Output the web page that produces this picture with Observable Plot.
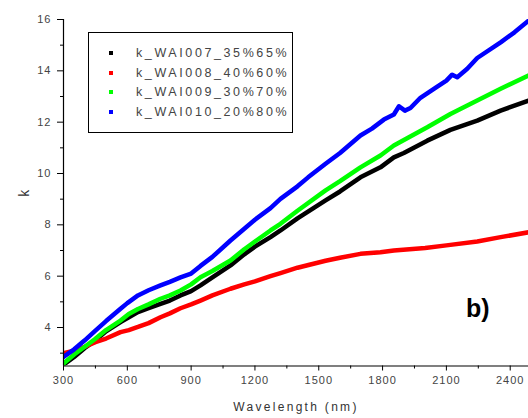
<!DOCTYPE html>
<html>
<head>
<meta charset="utf-8">
<script src="https://cdn.jsdelivr.net/npm/d3@7"></script>
<script src="https://cdn.jsdelivr.net/npm/@observablehq/plot@0.6"></script>
<style>
  html, body { margin: 0; padding: 0; background: #fff; overflow: hidden; }
  #wrap { position: relative; width: 528px; height: 418px; }
  #wrap svg text { fill: #444; letter-spacing: 1px; }
  #wrap svg g[aria-label="x-axis label"] text { letter-spacing: 2.3px; fill: #333; font-size: 12px; }
  #wrap svg g[aria-label="y-axis label"] text { fill: #333; font-size: 14px; }
  #legend { position: absolute; left: 88px; top: 32px; width: 203px; height: 99px; border: 1.5px solid #000; background: #fff; box-sizing: content-box; }
  .row { position: absolute; left: 0; height: 16px; font: 12.5px "Liberation Sans", Arial, sans-serif; letter-spacing: 2.6px; color: #444; white-space: nowrap; }
  .sw { position: absolute; left: 20px; top: 6px; width: 4px; height: 4px; }
  .lab { position: absolute; left: 47px; top: 0; line-height: 16px; }
  #tag { position: absolute; left: 466px; top: 294px; font: bold 25px "Liberation Sans", Arial, sans-serif; color: #000; }
</style>
</head>
<body>
<div id="wrap"></div>
<script>
// ---- data ----
const seriesNames = ["k_WAI007_35%65%", "k_WAI008_40%60%", "k_WAI009_30%70%", "k_WAI010_20%80%"];
const seriesColors = ["#000000", "#ff0000", "#00ff00", "#0000ff"];

const wl007 = [300, 350, 400, 450, 500, 568, 607, 650, 700, 756, 800, 850, 900, 944, 1000, 1085, 1150, 1200, 1273, 1320, 1400, 1532, 1600, 1696, 1790, 1853, 1900, 2010, 2119, 2245, 2355, 2486];
const k007  = [2.55, 2.85, 3.2, 3.5, 3.85, 4.21, 4.4, 4.6, 4.75, 4.92, 5.05, 5.25, 5.42, 5.64, 5.95, 6.42, 6.85, 7.15, 7.52, 7.78, 8.25, 8.95, 9.3, 9.85, 10.24, 10.63, 10.8, 11.28, 11.7, 12.06, 12.45, 12.84];

const wl008 = [300, 350, 400, 450, 500, 568, 607, 650, 700, 756, 800, 850, 900, 944, 1000, 1085, 1150, 1200, 1273, 1320, 1400, 1532, 1600, 1696, 1790, 1853, 2000, 2100, 2245, 2355, 2486];
const k008  = [3.0, 3.1, 3.25, 3.43, 3.57, 3.82, 3.9, 4.02, 4.17, 4.4, 4.55, 4.75, 4.9, 5.05, 5.25, 5.51, 5.68, 5.8, 6.0, 6.12, 6.33, 6.6, 6.72, 6.87, 6.93, 7.0, 7.1, 7.2, 7.35, 7.52, 7.71];

const wl009 = [300, 350, 400, 450, 500, 568, 607, 650, 700, 756, 800, 850, 900, 944, 1000, 1085, 1150, 1200, 1273, 1320, 1400, 1532, 1600, 1696, 1790, 1853, 2010, 2119, 2245, 2355, 2486];
const k009  = [2.6, 2.95, 3.25, 3.56, 3.9, 4.27, 4.53, 4.72, 4.9, 5.12, 5.25, 5.44, 5.68, 5.96, 6.2, 6.61, 7.05, 7.35, 7.78, 8.04, 8.55, 9.34, 9.7, 10.24, 10.7, 11.09, 11.8, 12.32, 12.84, 13.3, 13.82];

const wl010 = [300, 350, 400, 450, 500, 568, 600, 650, 700, 756, 800, 850, 900, 944, 1000, 1085, 1150, 1200, 1273, 1320, 1400, 1450, 1532, 1600, 1696, 1750, 1806, 1853, 1877, 1905, 1931, 1978, 2050, 2100, 2127, 2151, 2198, 2245, 2355, 2420, 2486];
const k010  = [2.85, 3.15, 3.5, 3.88, 4.25, 4.73, 4.95, 5.25, 5.45, 5.64, 5.78, 5.95, 6.1, 6.4, 6.75, 7.39, 7.85, 8.2, 8.65, 9.01, 9.5, 9.85, 10.38, 10.8, 11.48, 11.75, 12.1, 12.3, 12.62, 12.45, 12.55, 12.95, 13.35, 13.62, 13.85, 13.75, 14.08, 14.5, 15.11, 15.5, 15.95];

const xTicks = [300, 600, 900, 1200, 1500, 1800, 2100, 2400];
const xMinor = [450, 750, 1050, 1350, 1650, 1950, 2250];
const yTicks = [4, 6, 8, 10, 12, 14, 16];
const yMinor = [3, 5, 7, 9, 11, 13, 15];
const xDomain = [300, 2486];
const yDomain = [2.5, 16];

// ---- build table ----
const allWl = [wl007, wl008, wl009, wl010];
const allK = [k007, k008, k009, k010];
const rows = [];
allWl.forEach((wl, i) => wl.forEach((w, j) => rows.push({series: seriesNames[i], wl: w, k: allK[i][j]})));

const plot = Plot.plot({
  width: 528,
  height: 418,
  marginLeft: 63,
  marginRight: 0,
  marginTop: 19,
  marginBottom: 52.5,
  style: {fontFamily: "'Liberation Sans', Arial, sans-serif", fontSize: "11px", color: "#000", background: "#fff"},
  x: {domain: xDomain, label: null},
  y: {domain: yDomain, label: null},
  color: {domain: seriesNames, range: seriesColors},
  marks: [
    Plot.line(rows, {x: "wl", y: "k", z: "series", stroke: "series", strokeWidth: 4.5, strokeLinejoin: "round", clip: true}),
    Plot.ruleY([yDomain[0]], {stroke: "#000", strokeWidth: 1.2}),
    Plot.ruleX([xDomain[0]], {stroke: "#000", strokeWidth: 1.2}),
    Plot.axisX({ticks: xTicks, tickSize: 5, tickPadding: 5, tickFormat: d => String(d), label: "Wavelength (nm)", labelAnchor: "center", labelArrow: "none", labelOffset: 45}),
    Plot.axisX({ticks: xMinor, tickSize: 3, tickFormat: null, text: null, label: null}),
    Plot.axisY({ticks: yTicks, tickSize: 6, tickPadding: 6, label: "k", labelAnchor: "center", labelArrow: "none", labelOffset: 44}),
    Plot.axisY({ticks: yMinor, tickSize: 3, tickFormat: null, text: null, label: null})
  ]
});

const wrap = document.getElementById("wrap");
wrap.appendChild(plot);

// legend
const legend = document.createElement("div");
legend.id = "legend";
seriesNames.forEach((name, i) => {
  const r = document.createElement("div");
  r.className = "row";
  r.style.top = (12 + i * 19.7) + "px";
  r.innerHTML = `<span class="sw" style="background:${seriesColors[i]}"></span><span class="lab">${name}</span>`;
  legend.appendChild(r);
});
wrap.appendChild(legend);

const tag = document.createElement("div");
tag.id = "tag";
tag.textContent = "b)";
wrap.appendChild(tag);
</script>
</body>
</html>
